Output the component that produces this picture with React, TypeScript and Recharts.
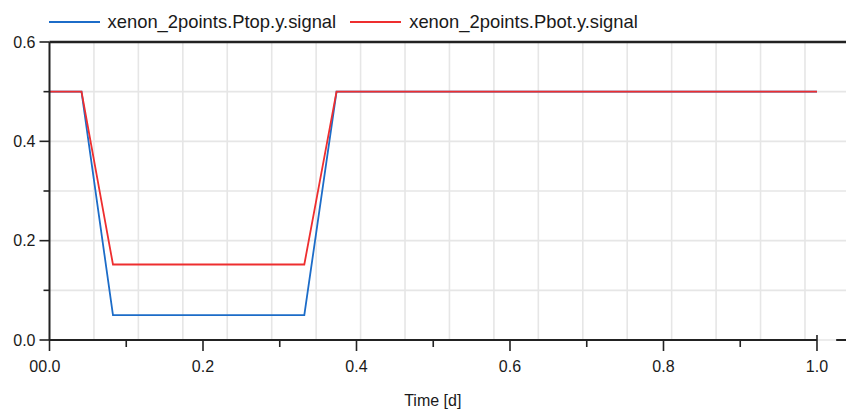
import {
  CartesianGrid,
  Legend,
  Line,
  LineChart,
  ReferenceLine,
  XAxis,
  YAxis,
} from "recharts";

// time in days, signals sampled at the corners of each ramp
const time = [0, 0.0417, 0.0827, 0.332, 0.374, 1.0];
const ptopSignal = [0.5, 0.5, 0.05, 0.05, 0.5, 0.5];
const pbotSignal = [0.5, 0.5, 0.152, 0.152, 0.5, 0.5];

const seriesNames = ["xenon_2points.Ptop.y.signal", "xenon_2points.Pbot.y.signal"];
const seriesColors = ["#1c6cc8", "#ee2e2f"];

const xTicks = [0, 0.1, 0.2, 0.3, 0.4, 0.5, 0.6, 0.7, 0.8, 0.9, 1.0];
const yTicks = [0, 0.1, 0.2, 0.3, 0.4, 0.5, 0.6];

const data = time.map((t, i) => ({
  time: t,
  ptop: ptopSignal[i],
  pbot: pbotSignal[i],
}));

const FONT = "'Liberation Sans', Arial, sans-serif";
const AXIS = "#222";
const TEXT = "#1a1a1a";

const isMajor = (v: number) => Math.round(v * 10) % 2 === 0;

const XTick = ({ x, y, payload }: any) => {
  const v = payload.value as number;
  const major = isMajor(v);
  return (
    <g>
      <line
        x1={x}
        x2={x}
        y1={v === 1 ? y - 5 : y}
        y2={y + (major ? 11 : 7)}
        stroke={AXIS}
        strokeWidth={1.6}
      />
      {major && (
        <text
          x={v === 0 ? x + 11 : x}
          y={y + 32}
          textAnchor={v === 0 ? "end" : "middle"}
          fontSize={16}
          fontFamily={FONT}
          fill={TEXT}
        >
          {v === 0 ? "00.0" : v.toFixed(1)}
        </text>
      )}
    </g>
  );
};

const YTick = ({ x, y, payload }: any) => {
  const v = payload.value as number;
  const major = isMajor(v);
  return (
    <g>
      <line
        x1={x - (major ? 10 : 6)}
        x2={x}
        y1={y}
        y2={y}
        stroke={AXIS}
        strokeWidth={1.6}
      />
      {major && (
        <text
          x={x - 14}
          y={y + 5.7}
          textAnchor="end"
          fontSize={16}
          fontFamily={FONT}
          fill={TEXT}
        >
          {v.toFixed(1)}
        </text>
      )}
    </g>
  );
};

const LegendContent = () => (
  <div
    style={{
      height: 42,
      display: "flex",
      alignItems: "center",
      paddingTop: 2,
      paddingLeft: 48.5,
      boxSizing: "border-box",
      fontFamily: FONT,
      fontSize: 18.4,
      color: TEXT,
      whiteSpace: "nowrap",
    }}
  >
    {seriesNames.map((name, i) => (
      <div key={name} style={{ display: "flex", alignItems: "center", marginRight: 14 }}>
        <div
          style={{
            width: 51,
            height: 1.8,
            background: seriesColors[i],
            marginRight: 8,
            flexShrink: 0,
          }}
        />
        <span>{name}</span>
      </div>
    ))}
  </div>
);

// vertical grid spacing in pixels, independent of the labelled ticks
const gridStep = 44.44;

export default function App() {
  return (
    <div style={{ position: "absolute", left: 0, top: 0 }}>
      <LineChart
        width={846}
        height={411}
        data={data}
        margin={{ top: 0, right: 0, bottom: 0, left: 0 }}
      >
        <Legend
          verticalAlign="top"
          align="left"
          content={<LegendContent />}
          wrapperStyle={{ left: 0, top: 0, width: 846 }}
        />
        <CartesianGrid
          stroke="#e6e6e6"
          strokeWidth={1.6}
          verticalCoordinatesGenerator={({ offset }: any) => {
            const pts: number[] = [];
            for (let px = offset.left + gridStep; px < offset.left + offset.width; px += gridStep) {
              pts.push(px);
            }
            return pts;
          }}
        />
        <XAxis
          dataKey="time"
          type="number"
          domain={[0, 1.0378]}
          allowDataOverflow
          ticks={xTicks}
          tick={<XTick />}
          tickSize={0}
          tickMargin={0}
          tickLine={false}
          axisLine={false}
          height={71}
          interval={0}
          label={{
            value: "Time [d]",
            position: "insideBottom",
            offset: 5,
            dx: -15,
            style: { fontFamily: FONT, fontSize: 16, fill: TEXT },
          }}
        />
        <YAxis
          type="number"
          domain={[0, 0.6]}
          ticks={yTicks}
          tick={<YTick />}
          tickSize={0}
          tickMargin={0}
          tickLine={false}
          axisLine={{ stroke: AXIS, strokeWidth: 2 }}
          width={49.5}
          interval={0}
        />
        <Line
          dataKey="ptop"
          name={seriesNames[0]}
          stroke={seriesColors[0]}
          strokeWidth={1.8}
          dot={false}
          isAnimationActive={false}
        />
        <Line
          dataKey="pbot"
          name={seriesNames[1]}
          stroke={seriesColors[1]}
          strokeWidth={1.8}
          dot={false}
          isAnimationActive={false}
        />
        <ReferenceLine y={0.6} stroke={AXIS} strokeWidth={2.5} />
        <ReferenceLine
          segment={[
            { x: 0, y: 0 },
            { x: 1, y: 0 },
          ]}
          stroke={AXIS}
          strokeWidth={2}
        />
        <ReferenceLine
          segment={[
            { x: 1.025, y: 0 },
            { x: 1.0378, y: 0 },
          ]}
          stroke={AXIS}
          strokeWidth={2}
        />
      </LineChart>
    </div>
  );
}
